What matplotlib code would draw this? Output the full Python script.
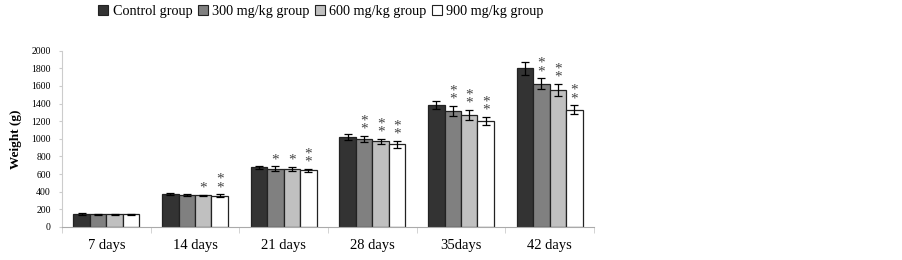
import numpy as np
import matplotlib.pyplot as plt
from matplotlib.patches import Patch

plt.rcParams['font.family'] = ['Liberation Serif', 'DejaVu Serif']

# data
days = ['7 days', '14 days', '21 days', '28 days', '35days', '42 days']
groups = ['Control group', '300 mg/kg group', '600 mg/kg group', '900 mg/kg group']
control = [150, 375, 675, 1020, 1385, 1800]
g300 = [142, 365, 662, 998, 1318, 1625]
g600 = [142, 358, 662, 972, 1273, 1553]
g900 = [142, 355, 643, 938, 1205, 1330]
control_err = [10, 10, 22, 30, 50, 70]
g300_err = [5, 10, 25, 35, 58, 62]
g600_err = [5, 5, 22, 30, 55, 70]
g900_err = [5, 15, 20, 40, 48, 52]
# significance marks (number of stars) per group per day
control_sig = [0, 0, 0, 0, 0, 0]
g300_sig = [0, 0, 1, 2, 2, 2]
g600_sig = [0, 1, 1, 2, 2, 2]
g900_sig = [0, 2, 2, 2, 2, 2]

colors = ['#333333', '#808080', '#c0c0c0', '#ffffff']
values = [control, g300, g600, g900]
errors = [control_err, g300_err, g600_err, g900_err]
sigs = [control_sig, g300_sig, g600_sig, g900_sig]

fig = plt.figure(figsize=(9.02, 2.6), dpi=100)
ax = fig.add_axes([62/902, 1-227/260, 532/902, 176.3/260])

x = np.arange(len(days))
w = 0.186
for i in range(4):
    pos = x + (i - 1.5) * w
    ax.bar(pos, values[i], w, color=colors[i], edgecolor='#222222', linewidth=0.9,
           yerr=errors[i], capsize=3, error_kw=dict(elinewidth=0.9, capthick=0.9, ecolor='black'),
           zorder=2)
    for j in range(len(days)):
        n = sigs[i][j]
        if n == 0:
            continue
        top = values[i][j] + errors[i][j]
        # stacked stars as one text
        ax.annotate('\n'.join(['*'] * n), (pos[j], top), xytext=(0, 0), textcoords='offset points',
                    ha='center', va='bottom', fontsize=11, color='#444444', linespacing=0.55)

ax.set_xlim(-0.5, 5.5)
ax.set_ylim(0, 2000)
ax.set_yticks(np.arange(0, 2001, 200))
ax.tick_params(axis='y', labelsize=7, length=2, color='#cccccc', pad=6)
ax.set_xticks(x)
ax.set_xticklabels(days, fontsize=10.5)
ax.set_xticks(np.arange(-0.5, 6, 1), minor=True)
ax.tick_params(axis='x', which='major', length=0, pad=9)
ax.tick_params(axis='x', which='minor', length=4, color='#cccccc')
for s in ['top', 'right']:
    ax.spines[s].set_visible(False)
ax.spines['left'].set_color('#cccccc')
ax.spines['bottom'].set_color('#aaaaaa')
ax.set_ylabel('Weight (g)', fontsize=9.5, fontweight='bold', labelpad=7)

handles = [Patch(facecolor=c, edgecolor='#222222', linewidth=0.8) for c in colors]
fig.legend(handles, groups, loc='center', bbox_to_anchor=(321/902, 1-11/260), ncol=4,
           frameon=False, fontsize=10.2, handlelength=0.7, handleheight=0.7,
           handletextpad=0.3, columnspacing=0.4)

plt.savefig('out.png', dpi=100)
